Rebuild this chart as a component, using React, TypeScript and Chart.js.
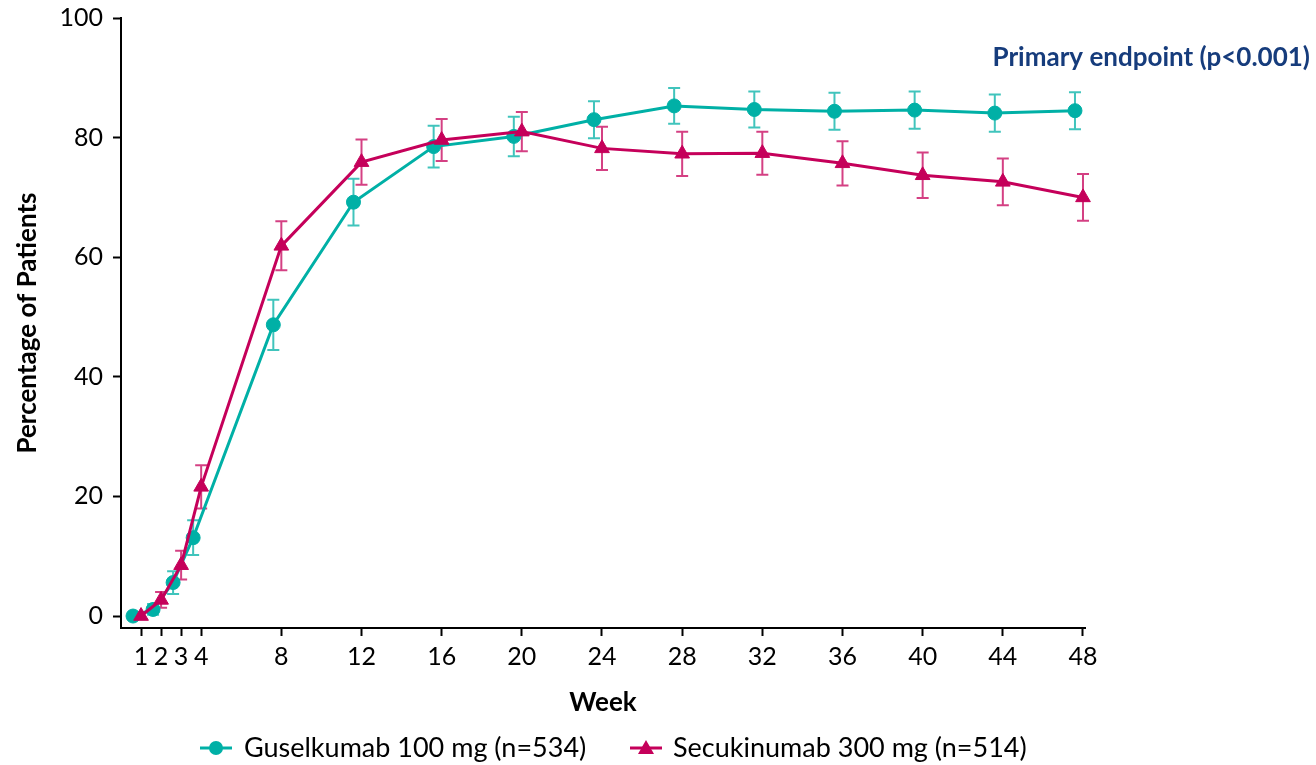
import { useEffect, useRef } from 'react';
import { Chart, registerables } from 'chart.js';

Chart.register(...registerables);

// ---- Data ----
const weeks = [1, 2, 3, 4, 8, 12, 16, 20, 24, 28, 32, 36, 40, 44, 48];
const xTickWeeks = [1, 2, 3, 4, 8, 12, 16, 20, 24, 28, 32, 36, 40, 44, 48];
const yTicks = [0, 20, 40, 60, 80, 100];

const guselkumab = [0, 1.1, 5.6, 13.1, 48.7, 69.2, 78.5, 80.2, 83.0, 85.3, 84.7, 84.4, 84.6, 84.1, 84.5];
const guselkumabErr = [0, 0.9, 1.9, 2.9, 4.2, 3.9, 3.5, 3.3, 3.1, 3.0, 3.0, 3.1, 3.1, 3.1, 3.1];
const secukinumab = [0, 2.7, 8.5, 21.6, 61.9, 75.9, 79.6, 81.0, 78.2, 77.3, 77.4, 75.7, 73.7, 72.6, 70.0];
const secukinumabErr = [0, 1.3, 2.4, 3.6, 4.1, 3.8, 3.5, 3.3, 3.6, 3.7, 3.6, 3.7, 3.8, 3.9, 3.9];

const seriesNames = ['Guselkumab 100 mg (n=534)', 'Secukinumab 300 mg (n=514)'];
const annotationText = 'Primary endpoint (p<0.001)';
const xTitle = 'Week';
const yTitle = 'Percentage of Patients';

// ---- Styles ----
const TEAL = '#00B0A6';
const TEAL_ERR = 'rgba(0,176,166,0.75)';
const MAGENTA = '#C5005A';
const MAGENTA_ERR = 'rgba(197,0,90,0.75)';
const NAVY = '#163C7C';
const FONT = 'Lato';
const TICK_FS = 25;
const TITLE_FS = 26;
const LEGEND_FS = 27;
const GUS_OFFSET = -0.4; // horizontal dodge of the Guselkumab series (in weeks)

const errorBarPlugin = {
  id: 'errorBars',
  beforeDatasetsDraw(chart: any) {
    const ctx = chart.ctx;
    const yScale = chart.scales.y;
    chart.data.datasets.forEach((ds: any, di: number) => {
      const meta = chart.getDatasetMeta(di);
      ctx.save();
      ctx.strokeStyle = ds.errorColor;
      ctx.lineWidth = 2;
      meta.data.forEach((pt: any, i: number) => {
        const e = ds.errors[i];
        if (!e) return;
        const v = ds.data[i].y;
        const top = yScale.getPixelForValue(v + e);
        const bot = yScale.getPixelForValue(v - e);
        ctx.beginPath();
        ctx.moveTo(pt.x, top);
        ctx.lineTo(pt.x, bot);
        ctx.moveTo(pt.x - 6, top);
        ctx.lineTo(pt.x + 6, top);
        ctx.moveTo(pt.x - 6, bot);
        ctx.lineTo(pt.x + 6, bot);
        ctx.stroke();
      });
      ctx.restore();
    });
  },
};

const textPlugin = {
  id: 'extraText',
  afterDraw(chart: any) {
    const ctx = chart.ctx;
    ctx.save();
    // annotation
    ctx.font = `bold ${TITLE_FS}px ${FONT}`;
    ctx.fillStyle = NAVY;
    ctx.textAlign = 'right';
    ctx.textBaseline = 'middle';
    ctx.fillText(annotationText, 1310, 58);

    // legend
    const ly = 748;
    const items = [
      { color: TEAL, style: 'circle', cx: 216, tx: 244, label: seriesNames[0] },
      { color: MAGENTA, style: 'triangle', cx: 646, tx: 673, label: seriesNames[1] },
    ];
    items.forEach((it) => {
      ctx.strokeStyle = it.color;
      ctx.fillStyle = it.color;
      ctx.lineWidth = 3;
      ctx.beginPath();
      ctx.moveTo(it.cx - 16, ly);
      ctx.lineTo(it.cx + 16, ly);
      ctx.stroke();
      ctx.beginPath();
      if (it.style === 'circle') {
        ctx.arc(it.cx, ly, 7, 0, Math.PI * 2);
      } else {
        ctx.moveTo(it.cx, ly - 8);
        ctx.lineTo(it.cx + 8, ly + 6);
        ctx.lineTo(it.cx - 8, ly + 6);
        ctx.closePath();
      }
      ctx.fill();
      ctx.font = `${LEGEND_FS}px ${FONT}`;
      ctx.fillStyle = '#000';
      ctx.textAlign = 'left';
      ctx.textBaseline = 'middle';
      ctx.fillText(it.label, it.tx, ly);
    });
    ctx.restore();
  },
};

export default function App() {
  const ref = useRef<HTMLCanvasElement | null>(null);

  useEffect(() => {
    if (!ref.current) return;
    const chart = new Chart(ref.current, {
      type: 'line',
      data: {
        datasets: [
          {
            label: seriesNames[0],
            data: weeks.map((w, i) => ({ x: w + GUS_OFFSET, y: guselkumab[i] })),
            errors: guselkumabErr,
            errorColor: TEAL_ERR,
            borderColor: TEAL,
            backgroundColor: TEAL,
            pointBackgroundColor: TEAL,
            pointBorderColor: TEAL,
            borderWidth: 3,
            pointRadius: 7,
            pointBorderWidth: 1,
            pointStyle: 'circle',
            tension: 0,
            clip: false,
            order: 1,
          } as any,
          {
            label: seriesNames[1],
            data: weeks.map((w, i) => ({ x: w, y: secukinumab[i] })),
            errors: secukinumabErr,
            errorColor: MAGENTA_ERR,
            borderColor: MAGENTA,
            backgroundColor: MAGENTA,
            pointBackgroundColor: MAGENTA,
            pointBorderColor: MAGENTA,
            borderWidth: 3,
            pointRadius: 8.5,
            pointBorderWidth: 1,
            pointStyle: 'triangle',
            tension: 0,
            clip: false,
            order: 0,
          } as any,
        ],
      },
      options: {
        animation: false,
        responsive: false,
        layout: { padding: { left: 0, top: 18, right: 231, bottom: 42 } },
        plugins: {
          legend: { display: false },
          tooltip: { enabled: false },
        },
        scales: {
          x: {
            type: 'linear',
            min: 0,
            max: 48.1,
            afterBuildTicks: (s: any) => {
              s.ticks = xTickWeeks.map((v) => ({ value: v }));
            },
            afterFit: (s: any) => {
              s.height = 95;
            },
            grid: {
              drawOnChartArea: false,
              drawTicks: true,
              tickLength: 8,
              tickWidth: 2,
              tickColor: '#000',
            },
            border: { display: true, color: '#000', width: 2 },
            ticks: {
              color: '#000',
              font: { family: FONT, size: TICK_FS },
              padding: 6,
              maxRotation: 0,
              autoSkip: false,
              callback: (v: any) => String(v),
            },
            title: {
              display: true,
              text: xTitle,
              color: '#000',
              font: { family: FONT, size: TITLE_FS, weight: 'bold' },
              padding: { top: 0, bottom: 5 },
            },
          },
          y: {
            type: 'linear',
            min: -2,
            max: 100,
            afterBuildTicks: (s: any) => {
              s.ticks = yTicks.map((v) => ({ value: v }));
            },
            afterFit: (s: any) => {
              s.width = 121;
              s.paddingTop = 0;
              s.paddingBottom = 0;
            },
            grid: {
              drawOnChartArea: false,
              drawTicks: true,
              tickLength: 8,
              tickWidth: 2,
              tickColor: '#000',
            },
            border: { display: true, color: '#000', width: 2 },
            ticks: {
              color: '#000',
              font: { family: FONT, size: TICK_FS },
              padding: 10,
              callback: (v: any) => String(v),
            },
            title: {
              display: true,
              text: yTitle,
              color: '#000',
              font: { family: FONT, size: TITLE_FS, weight: 'bold' },
              padding: { top: 12, bottom: 0 },
            },
          },
        },
      } as any,
      plugins: [errorBarPlugin, textPlugin],
    });
    return () => chart.destroy();
  }, []);

  return (
    <div style={{ position: 'absolute', left: 0, top: 0, width: 1316, height: 765, background: '#fff' }}>
      <canvas ref={ref} width={1316} height={765} style={{ width: 1316, height: 765, display: 'block' }} />
    </div>
  );
}
